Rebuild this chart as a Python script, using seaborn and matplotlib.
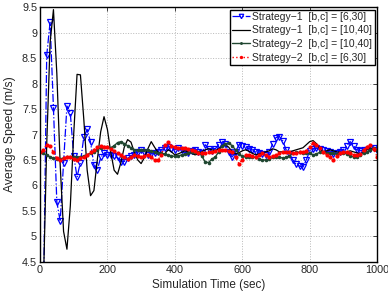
import matplotlib
matplotlib.use("Agg")
import matplotlib.pyplot as plt
import numpy as np
import pandas as pd
import seaborn as sns

sns.set_style("white")
plt.rcParams["font.family"] = ["Liberation Sans", "DejaVu Sans"]

# simulation time (sec), one sample every 10 s
time_sec = list(range(0, 1001, 10))

s1_6_30 = [
    2.0, 3.5, 8.55, 9.2, 7.52, 5.68, 5.3, 6.45, 7.56, 7.42,
    6.58, 6.17, 6.45, 6.95, 7.1, 6.85, 6.4, 6.3, 6.55, 6.63,
    6.6, 6.6, 6.58, 6.55, 6.47, 6.47, 6.53, 6.58, 6.6, 6.65,
    6.69, 6.66, 6.6, 6.62, 6.63, 6.66, 6.7, 6.74, 6.76, 6.72,
    6.7, 6.73, 6.7, 6.65, 6.63, 6.68, 6.7, 6.66, 6.63, 6.8,
    6.72, 6.68, 6.72, 6.8, 6.86, 6.82, 6.65, 6.56, 6.66, 6.8,
    6.78, 6.75, 6.72, 6.7, 6.66, 6.64, 6.62, 6.6, 6.65, 6.82,
    6.94, 6.96, 6.88, 6.7, 6.62, 6.5, 6.42, 6.38, 6.36, 6.5,
    6.68, 6.72, 6.73, 6.72, 6.7, 6.67, 6.65, 6.62, 6.64, 6.66,
    6.7, 6.78, 6.86, 6.78, 6.7, 6.68, 6.7, 6.7, 6.72, 6.74,
    6.7,
]

s1_10_40 = [
    2.5, 4.0, 6.8, 8.8, 9.45, 8.2, 6.4, 5.1, 4.75, 5.6,
    7.0, 8.18, 8.17, 7.3, 6.3, 5.8, 5.9, 6.5, 7.05, 7.35,
    7.1, 6.65, 6.3, 6.22, 6.45, 6.75, 6.9, 6.85, 6.65, 6.5,
    6.43, 6.55, 6.72, 6.86, 6.75, 6.65, 6.6, 6.62, 6.7, 6.66,
    6.6, 6.62, 6.65, 6.68, 6.66, 6.63, 6.6, 6.62, 6.66, 6.7,
    6.72, 6.7, 6.68, 6.72, 6.76, 6.8, 6.75, 6.66, 6.62, 6.64,
    6.68, 6.7, 6.67, 6.63, 6.6, 6.62, 6.64, 6.66, 6.68, 6.72,
    6.7, 6.66, 6.66, 6.65, 6.66, 6.68, 6.7, 6.72, 6.74, 6.8,
    6.86, 6.88, 6.82, 6.72, 6.66, 6.68, 6.7, 6.68, 6.66, 6.65,
    6.64, 6.66, 6.68, 6.66, 6.64, 6.62, 6.65, 6.7, 6.74, 6.7,
    6.66,
]

s2_10_40 = [
    6.65, 6.63, 6.6, 6.56, 6.53, 6.52, 6.52, 6.54, 6.55, 6.56,
    6.56, 6.55, 6.56, 6.58, 6.6, 6.63, 6.66, 6.7, 6.74, 6.76,
    6.75, 6.74, 6.78, 6.84, 6.86, 6.82, 6.78, 6.74, 6.7, 6.69,
    6.69, 6.7, 6.69, 6.68, 6.66, 6.64, 6.63, 6.62, 6.6, 6.58,
    6.57, 6.58, 6.6, 6.62, 6.64, 6.66, 6.66, 6.65, 6.58, 6.46,
    6.45, 6.52, 6.56, 6.66, 6.78, 6.82, 6.83, 6.78, 6.7, 6.62,
    6.57, 6.56, 6.55, 6.56, 6.55, 6.52, 6.5, 6.5, 6.52, 6.55,
    6.56, 6.55, 6.54, 6.55, 6.58, 6.63, 6.65, 6.65, 6.64, 6.64,
    6.63, 6.6, 6.62, 6.65, 6.66, 6.64, 6.63, 6.63, 6.62, 6.63,
    6.64, 6.62, 6.58, 6.56, 6.56, 6.6, 6.64, 6.66, 6.7, 6.73,
    6.7,
]

s2_6_30 = [
    6.65, 6.7, 6.8, 6.78, 6.65, 6.53, 6.5, 6.53, 6.56, 6.55,
    6.52, 6.5, 6.53, 6.56, 6.6, 6.65, 6.7, 6.75, 6.77, 6.76,
    6.75, 6.72, 6.68, 6.64, 6.6, 6.55, 6.52, 6.55, 6.6, 6.58,
    6.55, 6.58, 6.6, 6.55, 6.5, 6.5, 6.6, 6.8, 6.85, 6.78,
    6.75, 6.74, 6.73, 6.73, 6.72, 6.7, 6.68, 6.64, 6.63, 6.64,
    6.66, 6.66, 6.68, 6.7, 6.7, 6.7, 6.68, 6.66, 6.55, 6.43,
    6.5, 6.6, 6.6, 6.58, 6.56, 6.6, 6.63, 6.6, 6.56, 6.58,
    6.6, 6.64, 6.66, 6.66, 6.65, 6.63, 6.64, 6.66, 6.66, 6.68,
    6.75, 6.83, 6.8, 6.74, 6.66, 6.6, 6.55, 6.5, 6.58, 6.63,
    6.65, 6.66, 6.63, 6.6, 6.6, 6.62, 6.7, 6.76, 6.8, 6.72,
    6.56,
]

labels = [
    "Strategy\u22121  [b,c] = [6,30]",
    "Strategy\u22121  [b,c] = [10,40]",
    "Strategy\u22122  [b,c] = [10,40]",
    "Strategy\u22122  [b,c] = [6,30]",
]

fig, ax = plt.subplots(figsize=(3.88, 2.94), dpi=100)
fig.subplots_adjust(left=0.103, right=0.972, top=0.976, bottom=0.109)

sns.lineplot(x=time_sec, y=s1_6_30, ax=ax, color="blue", linestyle="-.",
             linewidth=0.9, marker="v", markersize=4, markerfacecolor="none",
             markeredgecolor="blue", markeredgewidth=0.9, label=labels[0])
sns.lineplot(x=time_sec, y=s1_10_40, ax=ax, color="black", linestyle="-",
             linewidth=0.9, label=labels[1])
sns.lineplot(x=time_sec, y=s2_10_40, ax=ax, color="#1f4630", linestyle="-",
             linewidth=1.0, marker="o", markersize=2.6, markeredgewidth=0,
             label=labels[2])
sns.lineplot(x=time_sec, y=s2_6_30, ax=ax, color="red", linestyle=":",
             linewidth=1.0, marker="o", markersize=3.0, markeredgewidth=0,
             label=labels[3])

ax.set_xlim(0, 1000)
ax.set_ylim(4.5, 9.5)
ax.set_xticks([0, 200, 400, 600, 800, 1000])
ax.set_yticks([4.5, 5, 5.5, 6, 6.5, 7, 7.5, 8, 8.5, 9, 9.5])
ax.set_yticklabels(["4.5", "5", "5.5", "6", "6.5", "7", "7.5", "8", "8.5", "9", "9.5"])
ax.set_xlabel("Simulation Time (sec)", fontsize=8.5, labelpad=3)
ax.set_ylabel("Average Speed (m/s)", fontsize=8.8, labelpad=4)
ax.tick_params(direction="in", top=True, right=True, labelsize=7.8,
               length=3, width=0.6, pad=2)
ax.grid(True, linestyle=":", color="#b8b8b8", linewidth=0.7)
for sp in ax.spines.values():
    sp.set_color("black")
    sp.set_linewidth(1.0)

ax.legend(loc="upper right", fontsize=7.5, fancybox=False, edgecolor="black",
          framealpha=1, handlelength=1.8, handletextpad=0.2, labelspacing=0.35,
          borderpad=0.2, borderaxespad=0.25, markerscale=0.8)

fig.savefig("out.png", dpi=100)
